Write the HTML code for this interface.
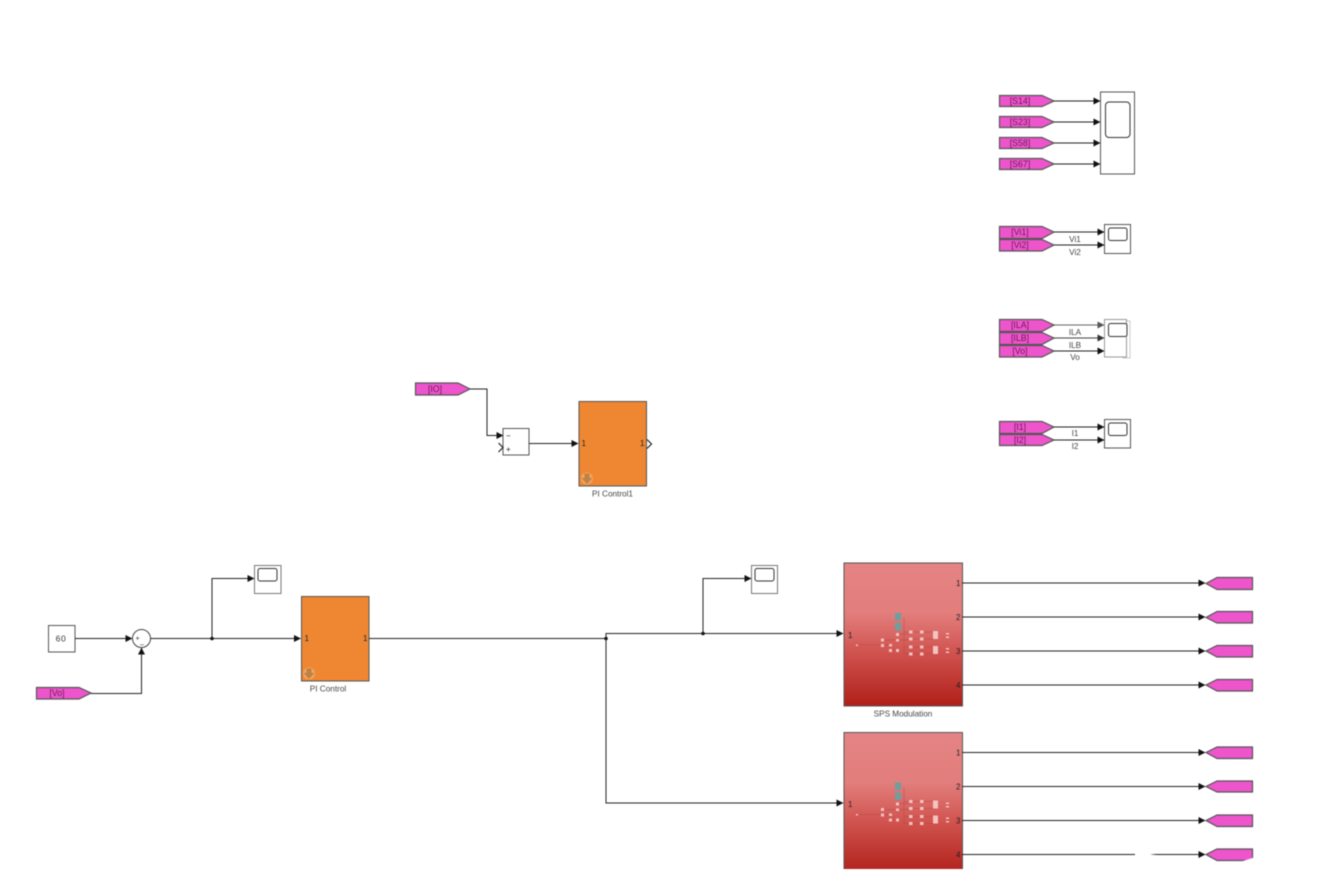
<!DOCTYPE html>
<html>
<head>
<meta charset="utf-8">
<style>
html,body{margin:0;padding:0;background:#fff;width:1338px;height:886px;overflow:hidden}
svg{display:block;filter:blur(.5px)}
text{font-family:"Liberation Sans",sans-serif;fill:#444}
.l{fill:none;stroke:#222;stroke-width:1}
.g{fill:#ee55cc;stroke:#555;stroke-width:1.2}
.b{fill:#fff;stroke:#555;stroke-width:1}
.i{fill:#fff;stroke:#333;stroke-width:1}
.s{font-size:8.2px;text-anchor:middle}
.t{font-size:8.8px;text-anchor:middle;fill:#6a1a55}
.p{font-size:8px;fill:#222}
.o{fill:#ef8732;stroke:#555;stroke-width:1}
.m{fill:#f4c4c0}
</style>
</head>
<body>
<svg width="1338" height="886" viewBox="0 0 1338 886" xmlns="http://www.w3.org/2000/svg">
<defs>
<marker id="a" viewBox="0 0 8 8" refX="7.5" refY="4" markerWidth="7" markerHeight="7" markerUnits="userSpaceOnUse" orient="auto"><path d="M0 0L8 4L0 8Z" fill="#111"/></marker>
<linearGradient id="r" x1="0" y1="0" x2="0" y2="1"><stop offset="0" stop-color="#e58484"/><stop offset=".35" stop-color="#e27e7c"/><stop offset=".62" stop-color="#d15450"/><stop offset="1" stop-color="#b01f18"/></linearGradient>
<g id="mini">
<path d="M857 645H882M882 640H897M882 645H890V650H897M897 634H910M897 640H910M904 618V654M904 632H910M904 647H910M904 654H910M913 632H921M913 639H921M913 647H921M913 654H921M924 632H935M924 639H935M924 647H935M924 654H935" fill="none" stroke="#b84848" stroke-width=".5"/>
<rect x="895" y="613" width="6" height="7.5" fill="#6f9e9e"/><rect x="895" y="623" width="6" height="7.5" fill="#6f9e9e"/>
<rect class="m" x="856" y="644.500" width="2" height="1.500"/>
<rect class="m" x="881" y="638.500" width="3" height="3"/><rect class="m" x="881" y="644" width="3" height="3"/>
<rect class="m" x="889" y="644" width="3" height="2.500"/><rect class="m" x="889" y="649" width="3" height="3"/>
<rect class="m" x="896" y="633" width="3" height="3"/><rect class="m" x="896" y="639" width="3" height="2.500"/><rect class="m" x="896" y="649" width="3" height="3"/>
<rect class="m" x="909" y="630.500" width="3.500" height="3"/><rect class="m" x="909" y="637.500" width="3.500" height="3"/><rect class="m" x="920" y="630.500" width="3.500" height="3"/><rect class="m" x="920" y="637.500" width="3.500" height="3"/>
<rect class="m" x="909" y="645.500" width="3.500" height="3"/><rect class="m" x="909" y="652.500" width="3.500" height="3"/><rect class="m" x="920" y="645.500" width="3.500" height="3"/><rect class="m" x="920" y="652.500" width="3.500" height="3"/>
<rect class="m" x="933" y="631" width="5" height="8"/><rect class="m" x="933" y="646" width="5" height="8"/>
<rect class="m" x="946" y="633" width="3" height="1.500"/><rect class="m" x="946" y="636.500" width="3" height="1.500"/><rect class="m" x="946" y="648" width="3" height="1.500"/><rect class="m" x="946" y="651.500" width="3" height="1.500"/>
</g>
</defs>

<!-- Top-right: scope with four signals -->
<path class="g" d="M999.500 95.500H1042L1054 101L1042 106.500H999.500Z"/><text class="t" x="1020" y="104">[S14]</text>
<path class="g" d="M999.500 116.500H1042L1054 122L1042 127.500H999.500Z"/><text class="t" x="1020" y="125">[S23]</text>
<path class="g" d="M999.500 137.500H1042L1054 143L1042 148.500H999.500Z"/><text class="t" x="1020" y="146">[S58]</text>
<path class="g" d="M999.500 158.500H1042L1054 164L1042 169.500H999.500Z"/><text class="t" x="1020" y="167">[S67]</text>
<path class="l" marker-end="url(#a)" d="M1054 101H1100"/>
<path class="l" marker-end="url(#a)" d="M1054 122H1100"/>
<path class="l" marker-end="url(#a)" d="M1054 143H1100"/>
<path class="l" marker-end="url(#a)" d="M1054 164H1100"/>
<rect class="b" x="1100.500" y="92" width="34" height="82"/>
<rect class="i" x="1105.500" y="102" width="24.500" height="35.500" rx="3.500"/>

<!-- Vi -->
<path class="g" d="M999.500 226.500H1042L1054 232L1042 238.500H999.500Z"/><text class="t" x="1020" y="235">[Vi1]</text>
<path class="g" d="M999.500 239.500H1042L1054 245L1042 251H999.500Z"/><text class="t" x="1020" y="248">[Vi2]</text>
<path class="l" marker-end="url(#a)" d="M1054 232H1104"/>
<path class="l" marker-end="url(#a)" d="M1054 245H1104"/>
<text class="s" x="1075" y="242">Vi1</text><text class="s" x="1075" y="255">Vi2</text>
<rect class="b" x="1104.500" y="224.500" width="26" height="29"/>
<rect class="i" x="1108.500" y="228" width="18.500" height="12.500" rx="2"/>

<!-- ILA -->
<path d="M1123 321H1130V358H1123Z" fill="#fff" stroke="#ccc"/>
<path class="g" d="M999.500 319.500H1042L1054 325L1042 331.500H999.500Z"/><text class="t" x="1020" y="328">[ILA]</text>
<path class="g" d="M999.500 332.500H1042L1054 338L1042 344.500H999.500Z"/><text class="t" x="1020" y="341">[ILB]</text>
<path class="g" d="M999.500 345.500H1042L1054 351L1042 357H999.500Z"/><text class="t" x="1020" y="354">[Vo]</text>
<path class="l" marker-end="url(#a)" d="M1054 325H1104" opacity=".7"/>
<path class="l" marker-end="url(#a)" d="M1054 338H1104" opacity=".85"/>
<path class="l" marker-end="url(#a)" d="M1054 351H1104"/>
<text class="s" x="1075" y="335">ILA</text><text class="s" x="1075" y="348">ILB</text><text class="s" x="1075" y="360">Vo</text>
<rect x="1104.500" y="319.500" width="22" height="37.500" fill="#fff" stroke="#999"/>
<rect class="i" x="1108.500" y="323.500" width="18.500" height="13" rx="2"/>

<!-- I1 I2 -->
<path class="g" d="M999.500 421.500H1042L1054 427L1042 433.500H999.500Z"/><text class="t" x="1020" y="430">[I1]</text>
<path class="g" d="M999.500 434.500H1042L1054 440L1042 445.500H999.500Z"/><text class="t" x="1020" y="443">[I2]</text>
<path class="l" marker-end="url(#a)" d="M1054 427H1104"/>
<path class="l" marker-end="url(#a)" d="M1054 440H1104"/>
<text class="s" x="1075" y="436">I1</text><text class="s" x="1075" y="449">I2</text>
<rect class="b" x="1104.500" y="419.500" width="26" height="28.500"/>
<rect class="i" x="1108.500" y="423" width="18.500" height="12.500" rx="2"/>

<!-- Middle: IO + PI Control1 -->
<path class="g" d="M415.500 383H458L470 389L458 395H415.500Z"/><text class="t" x="435" y="392">[IO]</text>
<path class="l" marker-end="url(#a)" d="M470 389H487V435.500H503"/>
<rect class="b" x="503" y="428.500" width="26" height="26.500"/>
<text x="506" y="438.500" font-size="8" style="fill:#222">−</text>
<text x="506" y="452" font-size="8" style="fill:#222">+</text>
<path d="M498.500 443L503 447.500L498.500 452" fill="none" stroke="#222" stroke-width="1.200"/>
<path class="l" marker-end="url(#a)" d="M529 443.500H578"/>
<rect class="o" x="579" y="401.500" width="67.500" height="84.500"/>
<text class="p" x="581.500" y="446">1</text><text class="p" x="640" y="446">1</text>
<path d="M647 439.500L651.500 444L647 448.500" fill="none" stroke="#222" stroke-width="1.200"/>
<circle cx="587" cy="478.500" r="6" fill="#f0a45e"/>
<path d="M584.500 473.500H589.500V478H592.500L587 484L581.500 478H584.500Z" fill="#bf8146"/>
<text class="s" x="612.500" y="496.500">PI Control1</text>

<!-- Lower left -->
<rect class="b" x="48.500" y="625.500" width="26.500" height="26.500"/>
<text x="61" y="641.500" font-size="8.500" text-anchor="middle" style="fill:#333;letter-spacing:.6px">60</text>
<path class="l" marker-end="url(#a)" d="M75 638.500H132"/>
<circle cx="141.500" cy="638.500" r="9" fill="#fff" stroke="#444"/>
<text x="135.500" y="640.500" font-size="7" style="fill:#222">+</text>
<text x="140" y="643.500" font-size="7" style="fill:#222">_</text>
<path class="g" d="M36.500 687.500H79L91 693L79 699H36.500Z"/><text class="t" x="57" y="696">[Vo]</text>
<path class="l" marker-end="url(#a)" d="M91 693.500H141.500V648"/>
<path class="l" marker-end="url(#a)" d="M150.500 638.500H300.500"/>
<circle cx="212" cy="638.500" r="1.800" fill="#111"/>
<path class="l" marker-end="url(#a)" d="M212 638.500V578.500H254"/>
<rect x="254.500" y="565.500" width="26.500" height="28" fill="#fff" stroke="#777"/>
<rect class="i" x="258" y="568.500" width="19" height="12.500" rx="2"/>
<rect class="o" x="301.500" y="596.500" width="67.500" height="84.500"/>
<text class="p" x="304.500" y="641">1</text><text class="p" x="363" y="641">1</text>
<circle cx="309" cy="673.500" r="6" fill="#f0a45e"/>
<path d="M306.500 668.500H311.500V673H314.500L309 679L303.500 673H306.500Z" fill="#bf8146"/>
<text class="s" x="328" y="691.500">PI Control</text>

<!-- Main output routing -->
<path class="l" d="M369 638.500H606"/>
<circle cx="606" cy="638.500" r="1.800" fill="#111"/>
<path class="l" marker-end="url(#a)" d="M606 638.500V633.500H843"/>
<path class="l" marker-end="url(#a)" d="M606 638.500V803H843"/>
<circle cx="703" cy="633.500" r="1.800" fill="#111"/>
<path class="l" marker-end="url(#a)" d="M703 633.500V578.500H751"/>
<rect x="751.500" y="565.500" width="26" height="28" fill="#fff" stroke="#777"/>
<rect class="i" x="755" y="568.500" width="19" height="12.500" rx="2"/>

<!-- SPS Modulation -->
<rect x="844" y="563" width="118.500" height="143" fill="url(#r)" stroke="#555"/>
<use href="#mini"/>
<text class="p" x="848" y="638">1</text>
<text class="p" x="956" y="586">1</text><text class="p" x="956" y="620">2</text><text class="p" x="956" y="654">3</text><text class="p" x="956" y="688">4</text>
<text class="s" x="903" y="716.500">SPS Modulation</text>

<!-- Second subsystem -->
<rect x="844" y="732.500" width="118.500" height="143" fill="url(#r)" stroke="#555"/>
<use href="#mini" y="169.500"/>
<text class="p" x="848" y="807">1</text>
<text class="p" x="956" y="755.500">1</text><text class="p" x="956" y="789.500">2</text><text class="p" x="956" y="823.500">3</text><text class="p" x="956" y="857.500">4</text>

<!-- Output lines -->
<path class="l" marker-end="url(#a)" d="M962 583H1205"/>
<path class="l" marker-end="url(#a)" d="M962 617H1205"/>
<path class="l" marker-end="url(#a)" d="M962 651H1205"/>
<path class="l" marker-end="url(#a)" d="M962 685H1205"/>
<path class="l" marker-end="url(#a)" d="M962 752.500H1205"/>
<path class="l" marker-end="url(#a)" d="M962 786.500H1205"/>
<path class="l" marker-end="url(#a)" d="M962 820.500H1205"/>
<path class="l" marker-end="url(#a)" d="M962 854.500H1205"/>

<!-- Output gotos -->
<path class="g" d="M1252.500 577.500H1217L1206 583.500L1217 589.500H1252.500Z"/>
<path class="g" d="M1252.500 611.500H1217L1206 617.500L1217 623H1252.500Z"/>
<path class="g" d="M1252.500 645.500H1217L1206 651L1217 657H1252.500Z"/>
<path class="g" d="M1252.500 679.500H1217L1206 685L1217 691H1252.500Z"/>
<path class="g" d="M1252.500 747H1217L1206 752.500L1217 758.500H1252.500Z"/>
<path class="g" d="M1252.500 781H1217L1206 786.500L1217 792H1252.500Z"/>
<path class="g" d="M1252.500 815H1217L1206 820.500L1217 826.500H1252.500Z"/>
<path class="g" d="M1252.500 849H1217L1206 854.500L1217 860.500H1252.500Z"/>

<!-- White masks at the cropped bottom -->
<path d="M0 869H1218L1254 857.500H1338V886H0Z" fill="#fff"/>
<path d="M1135 852H1172L1150 854.500L1172 856H1135Z" fill="#fff"/>
</svg>
</body>
</html>
